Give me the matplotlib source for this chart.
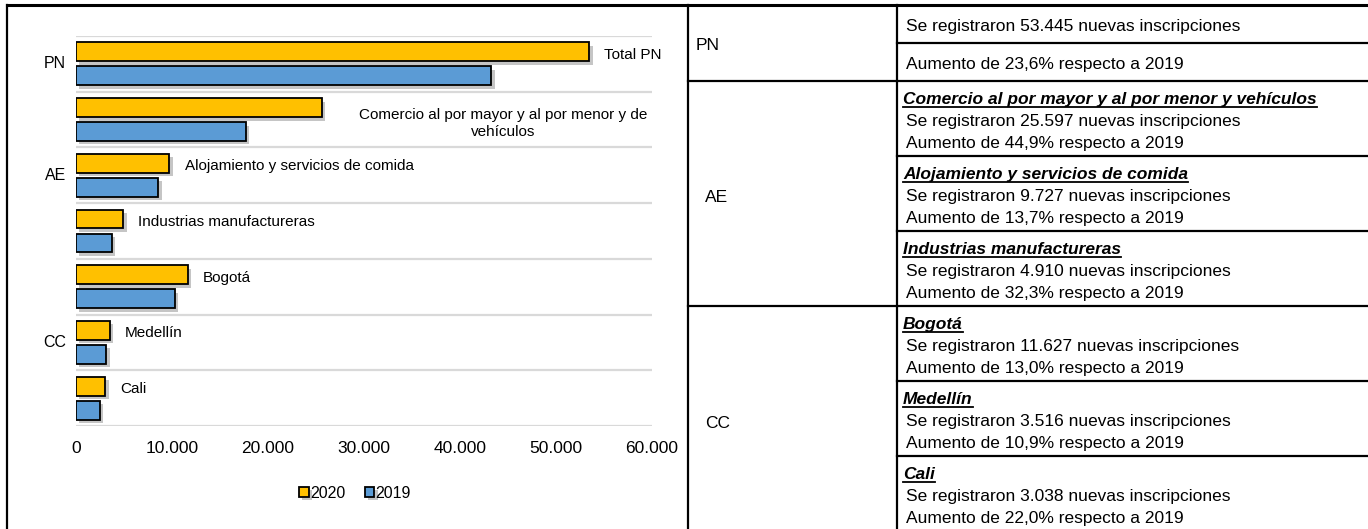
import numpy as np
import matplotlib
matplotlib.use('Agg')
import matplotlib.pyplot as plt
import matplotlib.patheffects as pe

# ------------------ data ------------------
categorias = ['Total PN',
              'Comercio al por mayor y al por menor y de\nvehículos',
              'Alojamiento y servicios de comida',
              'Industrias manufactureras',
              'Bogotá', 'Medellín', 'Cali']
grupos = ['PN', 'AE', 'CC']
grupo_idx = [[0], [1, 2, 3], [4, 5, 6]]
v2020 = [53445, 25597, 9727, 4910, 11627, 3516, 3038]
v2019 = [43240, 17665, 8555, 3711, 10289, 3170, 2490]
xticks = [0, 10000, 20000, 30000, 40000, 50000, 60000]

titulos = [None, 'Comercio al por mayor y al por menor y vehículos',
           'Alojamiento y servicios de comida', 'Industrias manufactureras',
           'Bogotá', 'Medellín', 'Cali']
aumentos = ['23,6', '44,9', '13,7', '32,3', '13,0', '10,9', '22,0']

C20 = '#FFC000'
C19 = '#5B9BD5'
FONT = ['Liberation Sans Narrow', 'Liberation Sans', 'DejaVu Sans']
plt.rcParams['font.family'] = FONT

W, H = 1368, 529
fig = plt.figure(figsize=(W / 100, H / 100), dpi=100)

def fmt(v):
	return format(v, ',').replace(',', '.')

# ------------------ bar chart ------------------
ax = fig.add_axes([76 / W, 1 - 426 / H, 576 / W, 390 / H])
y = np.arange(len(categorias))
sh = [pe.SimplePatchShadow(offset=(2.5, -2.5), shadow_rgbFace='#7f7f7f', alpha=0.45), pe.Normal()]
b20 = ax.barh(y - 0.215, v2020, height=0.34, color=C20, edgecolor='black',
			  linewidth=1.3, zorder=3, label='2020')
b19 = ax.barh(y + 0.215, v2019, height=0.34, color=C19, edgecolor='black',
			  linewidth=1.3, zorder=3, label='2019')
for b in list(b20) + list(b19):
	b.set_path_effects(sh)

ax.set_xlim(0, 60000)
ax.set_ylim(len(categorias) - 0.5, -0.5)
for g in np.arange(-0.5, len(categorias), 1.0):
	ax.axhline(g, color='#D9D9D9', linewidth=1.6, zorder=1)
ax.set_xticks(xticks)
ax.set_xticklabels([fmt(t) for t in xticks])
ax.set_yticks([])
ax.tick_params(axis='x', length=0, pad=11, labelsize=12.5)
for s in ax.spines.values():
	s.set_visible(False)

for i, lab in enumerate(categorias):
	if i == 1:
		ax.text(44480, i + 0.07, lab, ha='center', va='center', fontsize=11,
				multialignment='center', linespacing=1.25)
	else:
		ax.annotate(lab, (v2020[i], i - 0.215), xytext=(11, -2),
					textcoords='offset points', ha='left', va='center', fontsize=11)

for g, idx in zip(grupos, grupo_idx):
	ax.text(-0.017, np.mean(idx), g, transform=ax.get_yaxis_transform(),
			ha='right', va='center', fontsize=11.5)

fig.legend(handles=[b20, b19], labels=['2020', '2019'], loc='center',
		   bbox_to_anchor=(355 / W, 1 - 493 / H), ncol=2, frameon=False,
		   handlelength=0.6, handleheight=0.6, handletextpad=0.1,
		   columnspacing=1.2, fontsize=11.5)

# ------------------ table (pixel overlay) ------------------
ov = fig.add_axes([0, 0, 1, 1], zorder=5)
ov.set_xlim(0, W)
ov.set_ylim(H, 0)
ov.axis('off')

lw = 1.6
ov.plot([7, W], [5, 5], color='black', lw=2.2)
ov.plot([7, 7], [5, H], color='black', lw=lw)
ov.plot([688, 688], [5, H], color='black', lw=lw)
ov.plot([897, 897], [5, H], color='black', lw=lw)
ov.plot([897, W], [43, 43], color='black', lw=lw)
ov.plot([688, W], [81, 81], color='black', lw=lw)
for yy in [156, 231]:
	ov.plot([897, W], [yy, yy], color='black', lw=lw)
ov.plot([688, W], [306, 306], color='black', lw=lw)
for yy in [381, 456]:
	ov.plot([897, W], [yy, yy], color='black', lw=lw)

FS = 12.5
# left column labels
ov.text(696, 45, 'PN', ha='left', va='center', fontsize=FS)
ov.text(705, 198, 'AE', ha='left', va='center', fontsize=FS)
ov.text(705, 423, 'CC', ha='left', va='center', fontsize=FS)

# PN rows
ov.text(906, 25 + 6, 'Se registraron %s nuevas inscripciones' % fmt(v2020[0]),
		ha='left', va='baseline', fontsize=FS)
ov.text(906, 63 + 6, 'Aumento de %s%% respecto a 2019' % aumentos[0],
		ha='left', va='baseline', fontsize=FS)

heads = []
for k in range(1, len(titulos)):
	top = 81 + 75 * (k - 1)
	t = ov.text(903, top + 17 + 6, titulos[k], ha='left', va='baseline',
				fontsize=FS, fontweight='bold', fontstyle='italic')
	heads.append((t, top + 17 + 6))
	ov.text(906, top + 39 + 6, 'Se registraron %s nuevas inscripciones' % fmt(v2020[k]),
			ha='left', va='baseline', fontsize=FS)
	ov.text(906, top + 61 + 6, 'Aumento de %s%% respecto a 2019' % aumentos[k],
			ha='left', va='baseline', fontsize=FS)

# underline headings
fig.canvas.draw()
r = fig.canvas.get_renderer()
for t, base in heads:
	bb = t.get_window_extent(r)
	ov.plot([bb.x0, bb.x1], [base + 3, base + 3], color='black', lw=1.3)

fig.savefig('out.png', dpi=100)
